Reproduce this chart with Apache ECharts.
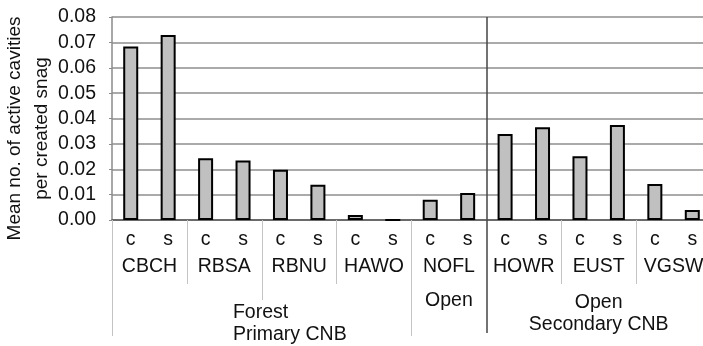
<!DOCTYPE html>
<html>
<head>
<meta charset="utf-8">
<script src="https://cdn.jsdelivr.net/npm/echarts@6/dist/echarts.min.js"></script>
<style>
  html, body { margin: 0; padding: 0; background: #fff; }
  #chart { width: 703px; height: 346px; }
</style>
</head>
<body>
<div id="chart"></div>
<script>
// Treatment per bar (c = control, s = ...), species pairs and habitat groups
const treatments = ['c', 's', 'c', 's', 'c', 's', 'c', 's', 'c', 's', 'c', 's', 'c', 's', 'c', 's'];
const species = ['CBCH', 'RBSA', 'RBNU', 'HAWO', 'NOFL', 'HOWR', 'EUST', 'VGSW'];
const habitats = ['Forest\nPrimary CNB', 'Open', 'Open\nSecondary CNB'];
const habitatSpans = [8, 2, 6];          // number of bars in each habitat group
// Mean no. of active cavities per created snag
const cavities = [0.0684, 0.0729, 0.0243, 0.0234, 0.0198, 0.0139, 0.0020, 0.0000,
                  0.0080, 0.0106, 0.0339, 0.0366, 0.0251, 0.0374, 0.0142, 0.0039];
const yMin = 0, yMax = 0.08, yStep = 0.01;

const FONT = 'Liberation Sans, Arial, sans-serif';
const FS = 19.5;
const TEXT = '#111';
const SEP = '#c4c4c4';

const nBars = treatments.length;
// habitat boundaries (in bar units) and centres
const habitatEdges = [0];
habitatSpans.forEach(s => habitatEdges.push(habitatEdges[habitatEdges.length - 1] + s));
const habitatCentres = habitatSpans.map((s, i) => habitatEdges[i] + s / 2);
// species pair boundaries that are not habitat boundaries
const pairEdges = [];
for (let b = 2; b < nBars; b += 2) if (!habitatEdges.includes(b)) pairEdges.push(b);
const speciesCentres = species.map((_, i) => i * 2 + 1);

// a value axis spanning the bar slots, used for the nested category rows
function tierAxis(opts) {
  return Object.assign({
    type: 'value', position: 'bottom', offset: 0, gridIndex: 0,
    min: 0, max: nBars,
    axisLine: { show: false },
    splitLine: { show: false },
    axisTick: { show: false },
    axisLabel: { show: false },
    axisPointer: { show: false }
  }, opts);
}

const forestLabelAt = 3.23;   // left edge of the first habitat caption

const chart = echarts.init(document.getElementById('chart'), null, { renderer: 'canvas' });
chart.setOption({
  animation: false,
  textStyle: { fontFamily: FONT, fontSize: FS, color: TEXT },
  grid: { left: 112, top: 17, width: 599, height: 203, containLabel: false, outerBoundsMode: 'none' },
  xAxis: [
    {
      type: 'category', position: 'bottom', data: treatments,
      axisLine: { lineStyle: { color: '#555', width: 1.5 } },
      axisTick: { interval: 0, length: 27, lineStyle: { color: SEP, width: 1 } },
      axisLabel: { interval: 0, margin: 10, fontSize: FS, color: TEXT, fontFamily: FONT }
    },
    // species row
    tierAxis({
      axisTick: { show: true, customValues: pairEdges, length: 64, lineStyle: { color: SEP, width: 1 } },
      axisLabel: {
        show: true, customValues: speciesCentres, margin: 37, fontSize: FS, color: TEXT, fontFamily: FONT,
        formatter: v => species[Math.round((v - 1) / 2)]
      }
    }),
    // first habitat caption and its inner divider
    tierAxis({
      axisTick: { show: true, customValues: [4], length: 80, lineStyle: { color: SEP, width: 1 } },
      axisLabel: {
        show: true, customValues: [forestLabelAt], margin: 82, align: 'left', lineHeight: 22,
        fontSize: FS, color: TEXT, fontFamily: FONT,
        formatter: () => habitats[0]
      }
    }),
    // second habitat caption, outer habitat dividers
    tierAxis({
      axisTick: { show: true, customValues: [habitatEdges[0], habitatEdges[1]], length: 116, lineStyle: { color: SEP, width: 1 } },
      axisLabel: {
        show: true, customValues: [habitatCentres[1]], margin: 70, lineHeight: 22,
        fontSize: FS, color: TEXT, fontFamily: FONT,
        formatter: () => habitats[1]
      }
    }),
    // primary / secondary divider and third habitat caption
    tierAxis({
      axisTick: { show: true, customValues: [habitatEdges[2]], length: 113, lineStyle: { color: '#444', width: 1.5 } },
      splitLine: { show: true, lineStyle: { color: '#444', width: 1.5 } },
      axisLabel: {
        show: true, customValues: [habitatCentres[2]], margin: 72, lineHeight: 22,
        fontSize: FS, color: TEXT, fontFamily: FONT,
        formatter: () => habitats[2]
      }
    })
  ],
  yAxis: {
    type: 'value', min: yMin, max: yMax, interval: yStep,
    name: 'Mean no. of active cavities\nper created snag',
    nameLocation: 'middle', nameRotate: 90, nameGap: 56, nameMoveOverlap: false,
    nameTextStyle: { fontSize: 19, lineHeight: 27.5, color: TEXT, fontFamily: FONT, padding: [0, 20, 0, 0] },
    axisLine: { show: true, lineStyle: { color: '#8a8a8a', width: 1.5 } },
    axisTick: { show: true, length: 3, lineStyle: { color: '#8a8a8a' } },
    axisLabel: { margin: 16, fontSize: FS, color: TEXT, fontFamily: FONT, formatter: v => v.toFixed(2) },
    splitLine: { lineStyle: { color: '#aaaaaa', width: 2 } }
  },
  series: [{
    type: 'bar', xAxisIndex: 0, yAxisIndex: 0,
    data: cavities,
    barWidth: 15,
    itemStyle: { color: '#c0c0c0', borderColor: '#000', borderWidth: 2 }
  }]
});
</script>
</body>
</html>
